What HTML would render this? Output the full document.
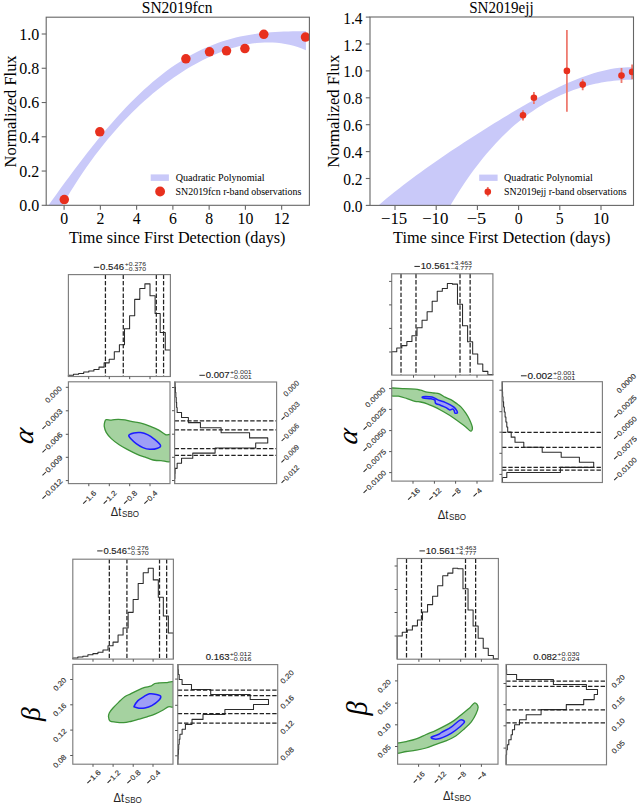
<!DOCTYPE html>
<html><head><meta charset="utf-8"><style>
html,body{margin:0;padding:0;background:#fff;overflow:hidden;}
svg{display:block;}
</style></head><body>
<svg width="637" height="805" viewBox="0 0 637 805">
<rect x="0" y="0" width="637" height="805" fill="#fff"/>
<clipPath id="c1"><rect x="46.2" y="17.2" width="263.2" height="188.1"/></clipPath>
<path d="M47.5,206.65 L51.88,200.52 L56.26,194.41 L60.64,188.35 L65.02,182.34 L69.4,176.38 L73.78,170.49 L78.16,164.66 L82.54,158.92 L86.92,153.26 L91.3,147.69 L95.68,142.22 L100.06,136.85 L104.44,131.59 L108.82,126.45 L113.19,121.42 L117.57,116.52 L121.95,111.74 L126.33,107.09 L130.71,102.58 L135.09,98.2 L139.47,93.96 L143.85,89.86 L148.23,85.91 L152.61,82.11 L156.99,78.45 L161.37,74.94 L165.75,71.58 L170.13,68.37 L174.51,65.31 L178.89,62.41 L183.27,59.65 L187.65,57.04 L192.03,54.57 L196.41,52.26 L200.79,50.09 L205.17,48.06 L209.55,46.17 L213.93,44.42 L218.31,42.8 L222.69,41.31 L227.07,39.95 L231.45,38.72 L235.83,37.6 L240.21,36.6 L244.58,35.7 L248.96,34.91 L253.34,34.22 L257.72,33.62 L262.1,33.11 L266.48,32.68 L270.86,32.32 L275.24,32.02 L279.62,31.78 L284,31.6 L288.38,31.45 L292.76,31.33 L297.14,31.25 L301.52,31.17 L305.9,31.1 L305.9,50.13 L301.76,48.47 L297.63,47.02 L293.49,45.79 L289.35,44.76 L285.21,43.93 L281.08,43.29 L276.94,42.83 L272.8,42.55 L268.66,42.45 L264.53,42.5 L260.39,42.72 L256.25,43.09 L252.12,43.62 L247.98,44.29 L243.84,45.1 L239.7,46.05 L235.57,47.13 L231.43,48.34 L227.29,49.68 L223.15,51.14 L219.02,52.73 L214.88,54.43 L210.74,56.25 L206.61,58.19 L202.47,60.24 L198.33,62.41 L194.19,64.68 L190.06,67.07 L185.92,69.57 L181.78,72.18 L177.64,74.9 L173.51,77.73 L169.37,80.68 L165.23,83.74 L161.09,86.91 L156.96,90.21 L152.82,93.62 L148.68,97.15 L144.55,100.8 L140.41,104.59 L136.27,108.5 L132.13,112.54 L128,116.72 L123.86,121.04 L119.72,125.51 L115.58,130.13 L111.45,134.9 L107.31,139.83 L103.17,144.92 L99.04,150.18 L94.9,155.62 L90.76,161.25 L86.62,167.06 L82.49,173.06 L78.35,179.27 L74.21,185.69 L70.07,192.33 L65.94,199.2 L61.8,206.29 Z" fill="#c9c9f9" stroke="none" stroke-width="1" stroke-linejoin="round" clip-path="url(#c1)"/>
<circle cx="64.3" cy="199.6" r="4.75" fill="#e8301e" clip-path="url(#c1)"/>
<circle cx="99.8" cy="131.8" r="4.75" fill="#e8301e" clip-path="url(#c1)"/>
<circle cx="185.9" cy="58.8" r="4.75" fill="#e8301e" clip-path="url(#c1)"/>
<circle cx="209.5" cy="51.8" r="4.75" fill="#e8301e" clip-path="url(#c1)"/>
<circle cx="226.5" cy="50.8" r="4.75" fill="#e8301e" clip-path="url(#c1)"/>
<circle cx="244.9" cy="48.6" r="4.75" fill="#e8301e" clip-path="url(#c1)"/>
<circle cx="263.8" cy="34.3" r="4.75" fill="#e8301e" clip-path="url(#c1)"/>
<circle cx="305.5" cy="37.1" r="4.75" fill="#e8301e" clip-path="url(#c1)"/>
<rect x="46.2" y="17.2" width="263.2" height="188.1" fill="none" stroke="#666" stroke-width="1.1"/>
<line x1="41.7" y1="205.3" x2="46.2" y2="205.3" stroke="#666" stroke-width="1.1"/>
<text x="39.3" y="211.2" font-family='"Liberation Serif", serif' font-size="15.8" text-anchor="end" fill="#000" textLength="20" lengthAdjust="spacingAndGlyphs">0.0</text>
<line x1="41.7" y1="171.04" x2="46.2" y2="171.04" stroke="#666" stroke-width="1.1"/>
<text x="39.3" y="176.94" font-family='"Liberation Serif", serif' font-size="15.8" text-anchor="end" fill="#000" textLength="20" lengthAdjust="spacingAndGlyphs">0.2</text>
<line x1="41.7" y1="136.78" x2="46.2" y2="136.78" stroke="#666" stroke-width="1.1"/>
<text x="39.3" y="142.68" font-family='"Liberation Serif", serif' font-size="15.8" text-anchor="end" fill="#000" textLength="20" lengthAdjust="spacingAndGlyphs">0.4</text>
<line x1="41.7" y1="102.52" x2="46.2" y2="102.52" stroke="#666" stroke-width="1.1"/>
<text x="39.3" y="108.42" font-family='"Liberation Serif", serif' font-size="15.8" text-anchor="end" fill="#000" textLength="20" lengthAdjust="spacingAndGlyphs">0.6</text>
<line x1="41.7" y1="68.26" x2="46.2" y2="68.26" stroke="#666" stroke-width="1.1"/>
<text x="39.3" y="74.16" font-family='"Liberation Serif", serif' font-size="15.8" text-anchor="end" fill="#000" textLength="20" lengthAdjust="spacingAndGlyphs">0.8</text>
<line x1="41.7" y1="34" x2="46.2" y2="34" stroke="#666" stroke-width="1.1"/>
<text x="39.3" y="39.9" font-family='"Liberation Serif", serif' font-size="15.8" text-anchor="end" fill="#000" textLength="20" lengthAdjust="spacingAndGlyphs">1.0</text>
<line x1="64.1" y1="205.3" x2="64.1" y2="209.8" stroke="#666" stroke-width="1.1"/>
<text x="64.1" y="223.6" font-family='"Liberation Serif", serif' font-size="15.8" text-anchor="middle" fill="#000">0</text>
<line x1="100.36" y1="205.3" x2="100.36" y2="209.8" stroke="#666" stroke-width="1.1"/>
<text x="100.36" y="223.6" font-family='"Liberation Serif", serif' font-size="15.8" text-anchor="middle" fill="#000">2</text>
<line x1="136.62" y1="205.3" x2="136.62" y2="209.8" stroke="#666" stroke-width="1.1"/>
<text x="136.62" y="223.6" font-family='"Liberation Serif", serif' font-size="15.8" text-anchor="middle" fill="#000">4</text>
<line x1="172.88" y1="205.3" x2="172.88" y2="209.8" stroke="#666" stroke-width="1.1"/>
<text x="172.88" y="223.6" font-family='"Liberation Serif", serif' font-size="15.8" text-anchor="middle" fill="#000">6</text>
<line x1="209.14" y1="205.3" x2="209.14" y2="209.8" stroke="#666" stroke-width="1.1"/>
<text x="209.14" y="223.6" font-family='"Liberation Serif", serif' font-size="15.8" text-anchor="middle" fill="#000">8</text>
<line x1="245.4" y1="205.3" x2="245.4" y2="209.8" stroke="#666" stroke-width="1.1"/>
<text x="245.4" y="223.6" font-family='"Liberation Serif", serif' font-size="15.8" text-anchor="middle" fill="#000">10</text>
<line x1="281.66" y1="205.3" x2="281.66" y2="209.8" stroke="#666" stroke-width="1.1"/>
<text x="281.66" y="223.6" font-family='"Liberation Serif", serif' font-size="15.8" text-anchor="middle" fill="#000">12</text>
<text x="141.8" y="13.2" font-family='"Liberation Serif", serif' font-size="16.6" text-anchor="start" fill="#000" textLength="70.6" lengthAdjust="spacingAndGlyphs">SN2019fcn</text>
<text x="69" y="242.8" font-family='"Liberation Serif", serif' font-size="15.8" text-anchor="start" fill="#000" textLength="216.5" lengthAdjust="spacingAndGlyphs">Time since First Detection (days)</text>
<text transform="translate(16.4,111.4) rotate(-90)" x="0" y="0" font-family='"Liberation Serif", serif' font-size="16" text-anchor="middle" fill="#000" textLength="112" lengthAdjust="spacingAndGlyphs">Normalized Flux</text>
<rect x="150.7" y="174.4" width="18.2" height="6.5" fill="#c9c9f9"/>
<text x="175.8" y="181.3" font-family='"Liberation Serif", serif' font-size="10.2" text-anchor="start" fill="#000" textLength="88.8" lengthAdjust="spacingAndGlyphs">Quadratic Polynomial</text>
<circle cx="160.1" cy="191.5" r="4.9" fill="#e8301e"/>
<text x="175.6" y="194.5" font-family='"Liberation Serif", serif' font-size="10.2" text-anchor="start" fill="#000" textLength="125.8" lengthAdjust="spacingAndGlyphs">SN2019fcn r-band observations</text>
<clipPath id="c2"><rect x="370" y="17" width="263.5" height="188.4"/></clipPath>
<path d="M377.5,206.23 L381.82,202.5 L386.14,198.86 L390.47,195.3 L394.79,191.81 L399.11,188.38 L403.43,185.02 L407.75,181.72 L412.08,178.47 L416.4,175.28 L420.72,172.13 L425.04,169.02 L429.36,165.95 L433.69,162.92 L438.01,159.93 L442.33,156.96 L446.65,154.03 L450.97,151.12 L455.3,148.24 L459.62,145.38 L463.94,142.55 L468.26,139.73 L472.58,136.94 L476.91,134.17 L481.23,131.43 L485.55,128.7 L489.87,126 L494.19,123.31 L498.52,120.66 L502.84,118.02 L507.16,115.42 L511.48,112.84 L515.81,110.29 L520.13,107.77 L524.45,105.29 L528.77,102.84 L533.09,100.44 L537.42,98.07 L541.74,95.76 L546.06,93.5 L550.38,91.29 L554.7,89.14 L559.03,87.06 L563.35,85.04 L567.67,83.1 L571.99,81.24 L576.31,79.46 L580.64,77.78 L584.96,76.19 L589.28,74.7 L593.6,73.33 L597.92,72.07 L602.25,70.94 L606.57,69.94 L610.89,69.08 L615.21,68.36 L619.53,67.8 L623.86,67.41 L628.18,67.19 L632.5,67.15 L632.5,79.65 L629.39,79.72 L626.28,79.84 L623.17,80.01 L620.06,80.23 L616.95,80.5 L613.84,80.82 L610.73,81.19 L607.62,81.61 L604.51,82.09 L601.4,82.62 L598.29,83.21 L595.18,83.85 L592.07,84.56 L588.96,85.32 L585.85,86.15 L582.74,87.03 L579.63,87.98 L576.52,89 L573.41,90.08 L570.3,91.23 L567.19,92.45 L564.08,93.74 L560.97,95.1 L557.86,96.54 L554.75,98.05 L551.64,99.64 L548.53,101.31 L545.42,103.06 L542.31,104.89 L539.19,106.8 L536.08,108.8 L532.97,110.89 L529.86,113.07 L526.75,115.34 L523.64,117.7 L520.53,120.15 L517.42,122.71 L514.31,125.36 L511.2,128.12 L508.09,130.97 L504.98,133.94 L501.87,137.01 L498.76,140.19 L495.65,143.48 L492.54,146.88 L489.43,150.41 L486.32,154.05 L483.21,157.81 L480.1,161.69 L476.99,165.7 L473.88,169.84 L470.77,174.11 L467.66,178.51 L464.55,183.05 L461.44,187.72 L458.33,192.54 L455.22,197.5 L452.11,202.61 L449,207.86 Z" fill="#c9c9f9" stroke="none" stroke-width="1" stroke-linejoin="round" clip-path="url(#c2)"/>
<line x1="523" y1="110.2" x2="523" y2="120.4" stroke="#ee7b70" stroke-width="1.8" clip-path="url(#c2)"/>
<circle cx="523" cy="115.2" r="3.3" fill="#e8301e" clip-path="url(#c2)"/>
<line x1="533.9" y1="91.9" x2="533.9" y2="104" stroke="#ee7b70" stroke-width="1.8" clip-path="url(#c2)"/>
<circle cx="533.9" cy="97.7" r="3.3" fill="#e8301e" clip-path="url(#c2)"/>
<line x1="566.9" y1="30" x2="566.9" y2="111.8" stroke="#ee7b70" stroke-width="1.8" clip-path="url(#c2)"/>
<circle cx="566.9" cy="70.9" r="3.3" fill="#e8301e" clip-path="url(#c2)"/>
<line x1="582.7" y1="79.3" x2="582.7" y2="90.2" stroke="#ee7b70" stroke-width="1.8" clip-path="url(#c2)"/>
<circle cx="582.7" cy="84.6" r="3.3" fill="#e8301e" clip-path="url(#c2)"/>
<line x1="621.5" y1="68" x2="621.5" y2="82.9" stroke="#ee7b70" stroke-width="1.8" clip-path="url(#c2)"/>
<circle cx="621.5" cy="75.6" r="3.3" fill="#e8301e" clip-path="url(#c2)"/>
<line x1="632.1" y1="64.4" x2="632.1" y2="79.3" stroke="#ee7b70" stroke-width="1.8" clip-path="url(#c2)"/>
<circle cx="632.1" cy="71.9" r="3.3" fill="#e8301e" clip-path="url(#c2)"/>
<rect x="370" y="17" width="263.5" height="188.4" fill="none" stroke="#666" stroke-width="1.1"/>
<line x1="365.8" y1="205.4" x2="370" y2="205.4" stroke="#666" stroke-width="1.1"/>
<text x="362.6" y="211.9" font-family='"Liberation Serif", serif' font-size="15.8" text-anchor="end" fill="#000" textLength="19.3" lengthAdjust="spacingAndGlyphs">0.0</text>
<line x1="365.8" y1="178.5" x2="370" y2="178.5" stroke="#666" stroke-width="1.1"/>
<text x="362.6" y="185" font-family='"Liberation Serif", serif' font-size="15.8" text-anchor="end" fill="#000" textLength="19.3" lengthAdjust="spacingAndGlyphs">0.2</text>
<line x1="365.8" y1="151.6" x2="370" y2="151.6" stroke="#666" stroke-width="1.1"/>
<text x="362.6" y="158.1" font-family='"Liberation Serif", serif' font-size="15.8" text-anchor="end" fill="#000" textLength="19.3" lengthAdjust="spacingAndGlyphs">0.4</text>
<line x1="365.8" y1="124.7" x2="370" y2="124.7" stroke="#666" stroke-width="1.1"/>
<text x="362.6" y="131.2" font-family='"Liberation Serif", serif' font-size="15.8" text-anchor="end" fill="#000" textLength="19.3" lengthAdjust="spacingAndGlyphs">0.6</text>
<line x1="365.8" y1="97.8" x2="370" y2="97.8" stroke="#666" stroke-width="1.1"/>
<text x="362.6" y="104.3" font-family='"Liberation Serif", serif' font-size="15.8" text-anchor="end" fill="#000" textLength="19.3" lengthAdjust="spacingAndGlyphs">0.8</text>
<line x1="365.8" y1="70.9" x2="370" y2="70.9" stroke="#666" stroke-width="1.1"/>
<text x="362.6" y="77.4" font-family='"Liberation Serif", serif' font-size="15.8" text-anchor="end" fill="#000" textLength="19.3" lengthAdjust="spacingAndGlyphs">1.0</text>
<line x1="365.8" y1="44" x2="370" y2="44" stroke="#666" stroke-width="1.1"/>
<text x="362.6" y="50.5" font-family='"Liberation Serif", serif' font-size="15.8" text-anchor="end" fill="#000" textLength="19.3" lengthAdjust="spacingAndGlyphs">1.2</text>
<line x1="365.8" y1="17.1" x2="370" y2="17.1" stroke="#666" stroke-width="1.1"/>
<text x="362.6" y="23.6" font-family='"Liberation Serif", serif' font-size="15.8" text-anchor="end" fill="#000" textLength="19.3" lengthAdjust="spacingAndGlyphs">1.4</text>
<line x1="395" y1="205.4" x2="395" y2="209.9" stroke="#666" stroke-width="1.1"/>
<text x="394.1" y="223.6" font-family='"Liberation Serif", serif' font-size="15.8" text-anchor="middle" fill="#000" textLength="26.3" lengthAdjust="spacingAndGlyphs">−15</text>
<line x1="436.2" y1="205.4" x2="436.2" y2="209.9" stroke="#666" stroke-width="1.1"/>
<text x="435.3" y="223.6" font-family='"Liberation Serif", serif' font-size="15.8" text-anchor="middle" fill="#000" textLength="26.3" lengthAdjust="spacingAndGlyphs">−10</text>
<line x1="477.4" y1="205.4" x2="477.4" y2="209.9" stroke="#666" stroke-width="1.1"/>
<text x="476.5" y="223.6" font-family='"Liberation Serif", serif' font-size="15.8" text-anchor="middle" fill="#000" textLength="19.6" lengthAdjust="spacingAndGlyphs">−5</text>
<line x1="518.6" y1="205.4" x2="518.6" y2="209.9" stroke="#666" stroke-width="1.1"/>
<text x="518.6" y="223.6" font-family='"Liberation Serif", serif' font-size="15.8" text-anchor="middle" fill="#000">0</text>
<line x1="559.8" y1="205.4" x2="559.8" y2="209.9" stroke="#666" stroke-width="1.1"/>
<text x="559.8" y="223.6" font-family='"Liberation Serif", serif' font-size="15.8" text-anchor="middle" fill="#000">5</text>
<line x1="601" y1="205.4" x2="601" y2="209.9" stroke="#666" stroke-width="1.1"/>
<text x="601" y="223.6" font-family='"Liberation Serif", serif' font-size="15.8" text-anchor="middle" fill="#000">10</text>
<text x="469.2" y="13.2" font-family='"Liberation Serif", serif' font-size="16.6" text-anchor="start" fill="#000" textLength="64.4" lengthAdjust="spacingAndGlyphs">SN2019ejj</text>
<text x="393" y="242.8" font-family='"Liberation Serif", serif' font-size="15.8" text-anchor="start" fill="#000" textLength="217.5" lengthAdjust="spacingAndGlyphs">Time since First Detection (days)</text>
<text transform="translate(338.6,111.3) rotate(-90)" x="0" y="0" font-family='"Liberation Serif", serif' font-size="16" text-anchor="middle" fill="#000" textLength="113" lengthAdjust="spacingAndGlyphs">Normalized Flux</text>
<rect x="479.2" y="174.6" width="18.4" height="6.3" fill="#c9c9f9"/>
<text x="504.1" y="181.3" font-family='"Liberation Serif", serif' font-size="10.2" text-anchor="start" fill="#000" textLength="88.7" lengthAdjust="spacingAndGlyphs">Quadratic Polynomial</text>
<line x1="487.8" y1="187" x2="487.8" y2="196.4" stroke="#ee7b70" stroke-width="1.8"/>
<circle cx="487.8" cy="191.8" r="3.3" fill="#e8301e"/>
<text x="504.1" y="194.5" font-family='"Liberation Serif", serif' font-size="10.2" text-anchor="start" fill="#000" textLength="122.6" lengthAdjust="spacingAndGlyphs">SN2019ejj r-band observations</text>
<clipPath id="k1"><rect x="68.4" y="381.8" width="101.6" height="101.8"/></clipPath>
<path d="M106.2,419.7 C107.3,419.35 109.32,420.17 111.3,420.1 C113.28,420.03 115.83,419.33 118.1,419.3 C120.37,419.27 122.27,419.47 124.9,419.9 C127.53,420.33 131.08,421.33 133.9,421.9 C136.72,422.47 139.17,422.6 141.8,423.3 C144.43,424 146.87,424.97 149.7,426.1 C152.53,427.23 156.17,428.68 158.8,430.1 C161.43,431.52 163.3,433.52 165.5,434.6 C167.7,435.68 170.92,432.37 172,436.6 C173.08,440.83 173.83,456 172,460 C170.17,464 164.15,460.6 161,460.6 C157.85,460.6 155.73,460.57 153.1,460 C150.47,459.43 147.83,458.13 145.2,457.2 C142.57,456.27 140.13,455.62 137.3,454.4 C134.47,453.18 131.22,451.5 128.2,449.9 C125.18,448.3 122.02,446.68 119.2,444.8 C116.38,442.92 113.47,440.68 111.3,438.6 C109.13,436.52 107.37,434.28 106.2,432.3 C105.03,430.32 104.55,428.38 104.3,426.7 C104.05,425.02 104.38,423.37 104.7,422.2 C105.02,421.03 105.1,420.05 106.2,419.7 Z" fill="#a5d2a0" stroke="#3d9438" stroke-width="1.3" clip-path="url(#k1)"/>
<path d="M128.8,435.2 C129.27,434.17 131.92,433.33 133.9,432.9 C135.88,432.47 138.43,432.32 140.7,432.6 C142.97,432.88 145.25,433.52 147.5,434.6 C149.75,435.68 152.03,437.32 154.2,439.1 C156.37,440.88 159.93,443.78 160.5,445.3 C161.07,446.82 159.4,447.53 157.6,448.2 C155.8,448.87 152.15,449.4 149.7,449.3 C147.25,449.2 145.15,448.55 142.9,447.6 C140.65,446.65 138.17,445.02 136.2,443.6 C134.23,442.18 132.33,440.5 131.1,439.1 C129.87,437.7 128.33,436.23 128.8,435.2 Z" fill="#9e9ef6" stroke="#1c1cff" stroke-width="1.5" clip-path="url(#k1)"/>
<path d="M68.4,376.5 L68.4,375.28 L73.5,375.28 L73.5,374.26 L78.6,374.26 L78.6,373.54 L83.7,373.54 L83.7,372.02 L88.8,372.02 L88.8,370.9 L93.9,370.9 L93.9,369.57 L99,369.57 L99,367.13 L104.1,367.13 L104.1,362.85 L109.2,362.85 L109.2,359.18 L114.3,359.18 L114.3,351.84 L119.4,351.84 L119.4,344.81 L124.5,344.81 L124.5,328.81 L129.6,328.81 L129.6,315.67 L134.7,315.67 L134.7,299.36 L139.8,299.36 L139.8,288.46 L144.9,288.46 L144.9,283.87 L150,283.87 L150,295.69 L155.1,295.69 L155.1,313.42 L160.2,313.42 L160.2,332.58 L165.3,332.58 L165.3,349.9 L170.4,349.9 L170.4,376.5" fill="none" stroke="#2b2b2b" stroke-width="1.05" stroke-linejoin="round" stroke-linejoin="miter"/>
<line x1="105.43" y1="274.6" x2="105.43" y2="376.5" stroke="#222" stroke-width="1.25" stroke-dasharray="4.4,1.9"/>
<line x1="123.28" y1="274.6" x2="123.28" y2="376.5" stroke="#222" stroke-width="1.25" stroke-dasharray="4.4,1.9"/>
<line x1="156.32" y1="274.6" x2="156.32" y2="376.5" stroke="#222" stroke-width="1.25" stroke-dasharray="4.4,1.9"/>
<line x1="163.57" y1="274.6" x2="163.57" y2="376.5" stroke="#222" stroke-width="1.25" stroke-dasharray="4.4,1.9"/>
<path d="M174.6,382 L175.11,382 L175.11,387.08 L175.42,387.08 L175.42,392.16 L175.82,392.16 L175.82,397.24 L176.23,397.24 L176.23,402.32 L176.64,402.32 L176.64,407.4 L177.15,407.4 L177.15,412.48 L181.54,412.48 L181.54,417.56 L188.37,417.56 L188.37,422.64 L200.41,422.64 L200.41,427.72 L221.11,427.72 L221.11,432.8 L249.57,432.8 L249.57,437.88 L267.73,437.88 L267.73,442.96 L255.69,442.96 L255.69,448.04 L215.09,448.04 L215.09,453.12 L192.76,453.12 L192.76,458.2 L181.54,458.2 L181.54,463.28 L177.15,463.28 L177.15,468.36 L175.11,468.36 L175.11,473.44 L174.91,473.44 L174.91,478.52 L174.6,478.52 L174.6,483.6 L174.6,483.6" fill="none" stroke="#2b2b2b" stroke-width="1.05" stroke-linejoin="round" stroke-linejoin="miter"/>
<line x1="174.6" y1="420.91" x2="276.6" y2="420.91" stroke="#222" stroke-width="1.25" stroke-dasharray="4.4,1.9"/>
<line x1="174.6" y1="429.75" x2="276.6" y2="429.75" stroke="#222" stroke-width="1.25" stroke-dasharray="4.4,1.9"/>
<line x1="174.6" y1="448.65" x2="276.6" y2="448.65" stroke="#222" stroke-width="1.25" stroke-dasharray="4.4,1.9"/>
<line x1="174.6" y1="455.36" x2="276.6" y2="455.36" stroke="#222" stroke-width="1.25" stroke-dasharray="4.4,1.9"/>
<rect x="68.4" y="274.6" width="102" height="101.9" fill="none" stroke="#7d7d7d" stroke-width="1.15"/>
<rect x="68.4" y="381.8" width="101.6" height="101.8" fill="none" stroke="#7d7d7d" stroke-width="1.15"/>
<rect x="174.6" y="382" width="102" height="101.6" fill="none" stroke="#7d7d7d" stroke-width="1.15"/>
<line x1="88.7" y1="376.5" x2="88.7" y2="379.1" stroke="#555" stroke-width="1"/>
<line x1="109.3" y1="376.5" x2="109.3" y2="379.1" stroke="#555" stroke-width="1"/>
<line x1="129.7" y1="376.5" x2="129.7" y2="379.1" stroke="#555" stroke-width="1"/>
<line x1="150" y1="376.5" x2="150" y2="379.1" stroke="#555" stroke-width="1"/>
<line x1="65.8" y1="387.3" x2="68.4" y2="387.3" stroke="#555" stroke-width="1"/>
<line x1="65.8" y1="410.8" x2="68.4" y2="410.8" stroke="#555" stroke-width="1"/>
<line x1="65.8" y1="434.3" x2="68.4" y2="434.3" stroke="#555" stroke-width="1"/>
<line x1="65.8" y1="457.3" x2="68.4" y2="457.3" stroke="#555" stroke-width="1"/>
<line x1="65.8" y1="480.6" x2="68.4" y2="480.6" stroke="#555" stroke-width="1"/>
<line x1="88.8" y1="483.6" x2="88.8" y2="486.2" stroke="#555" stroke-width="1"/>
<line x1="109.3" y1="483.6" x2="109.3" y2="486.2" stroke="#555" stroke-width="1"/>
<line x1="129.7" y1="483.6" x2="129.7" y2="486.2" stroke="#555" stroke-width="1"/>
<line x1="150" y1="483.6" x2="150" y2="486.2" stroke="#555" stroke-width="1"/>
<line x1="172" y1="387.5" x2="174.6" y2="387.5" stroke="#555" stroke-width="1"/>
<line x1="172" y1="410.7" x2="174.6" y2="410.7" stroke="#555" stroke-width="1"/>
<line x1="172" y1="434.2" x2="174.6" y2="434.2" stroke="#555" stroke-width="1"/>
<line x1="172" y1="457.3" x2="174.6" y2="457.3" stroke="#555" stroke-width="1"/>
<line x1="172" y1="480.5" x2="174.6" y2="480.5" stroke="#555" stroke-width="1"/>
<line x1="93.8" y1="267.31" x2="99.28" y2="267.31" stroke="#1a1a1a" stroke-width="0.95"/>
<text x="100.12" y="270.1" font-family='"Liberation Sans", sans-serif' font-size="8.2" text-anchor="start" fill="#1a1a1a" textLength="23.98" lengthAdjust="spacingAndGlyphs" stroke="#1a1a1a" stroke-width="0.12">0.546</text>
<text x="124.8" y="266.2" font-family='"Liberation Sans", sans-serif' font-size="5.5" text-anchor="start" fill="#1a1a1a" textLength="21.2" lengthAdjust="spacingAndGlyphs">+0.276</text>
<text x="124.8" y="271.2" font-family='"Liberation Sans", sans-serif' font-size="5.5" text-anchor="start" fill="#1a1a1a" textLength="21.2" lengthAdjust="spacingAndGlyphs">−0.370</text>
<line x1="199.4" y1="375.31" x2="204.86" y2="375.31" stroke="#1a1a1a" stroke-width="0.95"/>
<text x="205.7" y="378.1" font-family='"Liberation Sans", sans-serif' font-size="8.2" text-anchor="start" fill="#1a1a1a" textLength="23.9" lengthAdjust="spacingAndGlyphs" stroke="#1a1a1a" stroke-width="0.12">0.007</text>
<text x="230" y="374.2" font-family='"Liberation Sans", sans-serif' font-size="5.5" text-anchor="start" fill="#1a1a1a" textLength="21.8" lengthAdjust="spacingAndGlyphs">+0.001</text>
<text x="230" y="379.2" font-family='"Liberation Sans", sans-serif' font-size="5.5" text-anchor="start" fill="#1a1a1a" textLength="21.8" lengthAdjust="spacingAndGlyphs">−0.001</text>
<text transform="translate(53.32,394.38) rotate(-45)" x="0" y="2.63" text-anchor="middle" textLength="20.46" font-family='"Liberation Sans", sans-serif' font-size="7.3" fill="#333" stroke="#333" stroke-width="0.15" lengthAdjust="spacingAndGlyphs">0.000</text>
<g transform="translate(51.62,419.58) rotate(-45)"><line x1="-13.05" y1="0.15" x2="-8.22" y2="0.15" stroke="#2a2a2a" stroke-width="1.05"/><text x="13.67" y="2.63" text-anchor="end" textLength="21.14" font-family='"Liberation Sans", sans-serif' font-size="7.3" fill="#333" stroke="#333" stroke-width="0.15" lengthAdjust="spacingAndGlyphs">0.003</text></g>
<g transform="translate(51.62,443.08) rotate(-45)"><line x1="-13.05" y1="0.15" x2="-8.22" y2="0.15" stroke="#2a2a2a" stroke-width="1.05"/><text x="13.67" y="2.63" text-anchor="end" textLength="21.14" font-family='"Liberation Sans", sans-serif' font-size="7.3" fill="#333" stroke="#333" stroke-width="0.15" lengthAdjust="spacingAndGlyphs">0.006</text></g>
<g transform="translate(51.62,466.08) rotate(-45)"><line x1="-13.05" y1="0.15" x2="-8.22" y2="0.15" stroke="#2a2a2a" stroke-width="1.05"/><text x="13.67" y="2.63" text-anchor="end" textLength="21.14" font-family='"Liberation Sans", sans-serif' font-size="7.3" fill="#333" stroke="#333" stroke-width="0.15" lengthAdjust="spacingAndGlyphs">0.009</text></g>
<g transform="translate(51.62,489.38) rotate(-45)"><line x1="-13.05" y1="0.15" x2="-8.22" y2="0.15" stroke="#2a2a2a" stroke-width="1.05"/><text x="13.67" y="2.63" text-anchor="end" textLength="21.14" font-family='"Liberation Sans", sans-serif' font-size="7.3" fill="#333" stroke="#333" stroke-width="0.15" lengthAdjust="spacingAndGlyphs">0.012</text></g>
<g transform="translate(88.8,497.9) rotate(-45)"><line x1="-8.07" y1="0.15" x2="-3.4" y2="0.15" stroke="#2a2a2a" stroke-width="1.05"/><text x="8.67" y="2.63" text-anchor="end" textLength="11.36" font-family='"Liberation Sans", sans-serif' font-size="7.3" fill="#333" stroke="#333" stroke-width="0.15" lengthAdjust="spacingAndGlyphs">1.6</text></g>
<g transform="translate(109.3,497.9) rotate(-45)"><line x1="-8.07" y1="0.15" x2="-3.4" y2="0.15" stroke="#2a2a2a" stroke-width="1.05"/><text x="8.67" y="2.63" text-anchor="end" textLength="11.36" font-family='"Liberation Sans", sans-serif' font-size="7.3" fill="#333" stroke="#333" stroke-width="0.15" lengthAdjust="spacingAndGlyphs">1.2</text></g>
<g transform="translate(129.7,497.9) rotate(-45)"><line x1="-8.07" y1="0.15" x2="-3.4" y2="0.15" stroke="#2a2a2a" stroke-width="1.05"/><text x="8.67" y="2.63" text-anchor="end" textLength="11.36" font-family='"Liberation Sans", sans-serif' font-size="7.3" fill="#333" stroke="#333" stroke-width="0.15" lengthAdjust="spacingAndGlyphs">0.8</text></g>
<g transform="translate(150,497.9) rotate(-45)"><line x1="-8.07" y1="0.15" x2="-3.4" y2="0.15" stroke="#2a2a2a" stroke-width="1.05"/><text x="8.67" y="2.63" text-anchor="end" textLength="11.36" font-family='"Liberation Sans", sans-serif' font-size="7.3" fill="#333" stroke="#333" stroke-width="0.15" lengthAdjust="spacingAndGlyphs">0.4</text></g>
<text transform="translate(291.05,388.4) rotate(-45)" x="0" y="2.63" text-anchor="middle" textLength="18.87" font-family='"Liberation Sans", sans-serif' font-size="7.3" fill="#333" stroke="#333" stroke-width="0.15" lengthAdjust="spacingAndGlyphs">0.000</text>
<g transform="translate(289.7,411.3) rotate(-45)"><line x1="-11.64" y1="0.15" x2="-7.33" y2="0.15" stroke="#2a2a2a" stroke-width="1.05"/><text x="12.19" y="2.63" text-anchor="end" textLength="18.86" font-family='"Liberation Sans", sans-serif' font-size="7.3" fill="#333" stroke="#333" stroke-width="0.15" lengthAdjust="spacingAndGlyphs">0.003</text></g>
<g transform="translate(289.45,432.95) rotate(-45)"><line x1="-11.23" y1="0.15" x2="-7.07" y2="0.15" stroke="#2a2a2a" stroke-width="1.05"/><text x="11.76" y="2.63" text-anchor="end" textLength="18.19" font-family='"Liberation Sans", sans-serif' font-size="7.3" fill="#333" stroke="#333" stroke-width="0.15" lengthAdjust="spacingAndGlyphs">0.006</text></g>
<g transform="translate(289.45,454.15) rotate(-45)"><line x1="-11.43" y1="0.15" x2="-7.2" y2="0.15" stroke="#2a2a2a" stroke-width="1.05"/><text x="11.97" y="2.63" text-anchor="end" textLength="18.52" font-family='"Liberation Sans", sans-serif' font-size="7.3" fill="#333" stroke="#333" stroke-width="0.15" lengthAdjust="spacingAndGlyphs">0.009</text></g>
<g transform="translate(289.45,474.7) rotate(-45)"><line x1="-11.33" y1="0.15" x2="-7.14" y2="0.15" stroke="#2a2a2a" stroke-width="1.05"/><text x="11.87" y="2.63" text-anchor="end" textLength="18.36" font-family='"Liberation Sans", sans-serif' font-size="7.3" fill="#333" stroke="#333" stroke-width="0.15" lengthAdjust="spacingAndGlyphs">0.012</text></g>
<text transform="translate(23.2,435.4) skewY(14) rotate(-90)" x="0" y="0" font-family='"Liberation Serif", serif' font-style="italic" font-size="28" text-anchor="middle" dominant-baseline="central" fill="#000">α</text>
<text x="110.8" y="516.1" font-family='"Liberation Sans", sans-serif' font-size="12.3" text-anchor="start" fill="#222" textLength="10.5" lengthAdjust="spacingAndGlyphs">Δt</text>
<text x="122.1" y="517.3" font-family='"Liberation Sans", sans-serif' font-size="9.3" text-anchor="start" fill="#222" textLength="16.9" lengthAdjust="spacingAndGlyphs">SBO</text>
<clipPath id="k2"><rect x="391.7" y="380.4" width="101.2" height="100.7"/></clipPath>
<path d="M389,388.4 C391.52,387.28 399.77,388.57 404.1,388.7 C408.43,388.83 412.25,388.95 415,389.2 C417.75,389.45 418.57,389.72 420.6,390.2 C422.63,390.68 425,391.63 427.2,392.1 C429.4,392.57 431.75,392.7 433.8,393 C435.85,393.3 437.62,393.2 439.5,393.9 C441.38,394.6 443.22,396.25 445.1,397.2 C446.98,398.15 448.92,398.57 450.8,399.6 C452.68,400.63 454.68,402.15 456.4,403.4 C458.12,404.65 459.53,405.47 461.1,407.1 C462.67,408.73 464.38,411.08 465.8,413.2 C467.22,415.32 468.5,417.37 469.6,419.8 C470.7,422.23 472.23,425.92 472.4,427.8 C472.57,429.68 471.7,431.25 470.6,431.1 C469.5,430.95 467.53,428.3 465.8,426.9 C464.07,425.5 462.23,424.18 460.2,422.7 C458.17,421.22 455.8,419.5 453.6,418 C451.4,416.5 449.2,415.03 447,413.7 C444.8,412.37 442.6,411.17 440.4,410 C438.2,408.83 436,407.73 433.8,406.7 C431.6,405.67 429.4,404.58 427.2,403.8 C425,403.02 422.63,402.42 420.6,402 C418.57,401.58 417.27,401.87 415,401.3 C412.73,400.73 409.75,399.45 407,398.6 C404.25,397.75 401.5,396.73 398.5,396.2 C395.5,395.67 390.58,396.7 389,395.4 C387.42,394.1 386.48,389.52 389,388.4 Z" fill="#a5d2a0" stroke="#3d9438" stroke-width="1.3" clip-path="url(#k2)"/>
<path d="M422.1,397.2 C422.27,396.92 423.75,396.52 425.4,396.5 C427.05,396.48 430.28,396.73 432,397.1 C433.72,397.47 434.45,398.13 435.7,398.7 C436.95,399.27 437.93,399.88 439.5,400.5 C441.07,401.12 443.22,401.62 445.1,402.4 C446.98,403.18 449.23,404.33 450.8,405.2 C452.37,406.07 453.48,406.65 454.5,407.6 C455.52,408.55 456.42,410.03 456.9,410.9 C457.38,411.77 457.72,412.42 457.4,412.8 C457.08,413.18 455.55,413.6 455,413.2 C454.45,412.8 454.48,411.1 454.1,410.4 C453.72,409.7 453.42,409.07 452.7,409 C451.98,408.93 450.9,410.23 449.8,410 C448.7,409.77 447.67,408.4 446.1,407.6 C444.53,406.8 442.13,405.9 440.4,405.2 C438.67,404.5 436.63,404.25 435.7,403.4 C434.77,402.55 435.58,400.88 434.8,400.1 C434.02,399.32 432.73,399.02 431,398.7 C429.27,398.38 425.88,398.45 424.4,398.2 C422.92,397.95 421.93,397.48 422.1,397.2 Z" fill="#9e9ef6" stroke="#1c1cff" stroke-width="1.5" clip-path="url(#k2)"/>
<path d="M391.7,375.1 L391.7,351.8 L396.76,351.8 L396.76,347.95 L401.82,347.95 L401.82,345.62 L406.88,345.62 L406.88,341.57 L411.94,341.57 L411.94,335.69 L417,335.69 L417,327.69 L422.06,327.69 L422.06,320.2 L427.12,320.2 L427.12,311.79 L432.18,311.79 L432.18,301.15 L437.24,301.15 L437.24,291.22 L442.3,291.22 L442.3,288.49 L447.36,288.49 L447.36,283.52 L452.42,283.52 L452.42,284.13 L457.48,284.13 L457.48,304.19 L462.54,304.19 L462.54,325.67 L467.6,325.67 L467.6,341.77 L472.66,341.77 L472.66,354.03 L477.72,354.03 L477.72,364.06 L482.78,364.06 L482.78,371.35 L487.84,371.35 L487.84,374.59 L492.9,374.59 L492.9,375.1" fill="none" stroke="#2b2b2b" stroke-width="1.05" stroke-linejoin="round" stroke-linejoin="miter"/>
<line x1="401.01" y1="273.8" x2="401.01" y2="375.1" stroke="#222" stroke-width="1.25" stroke-dasharray="4.4,1.9"/>
<line x1="415.99" y1="273.8" x2="415.99" y2="375.1" stroke="#222" stroke-width="1.25" stroke-dasharray="4.4,1.9"/>
<line x1="460.01" y1="273.8" x2="460.01" y2="375.1" stroke="#222" stroke-width="1.25" stroke-dasharray="4.4,1.9"/>
<line x1="470.13" y1="273.8" x2="470.13" y2="375.1" stroke="#222" stroke-width="1.25" stroke-dasharray="4.4,1.9"/>
<path d="M502,381.7 L502.3,381.7 L502.3,386.74 L502.4,386.74 L502.4,391.78 L502.6,391.78 L502.6,396.82 L503,396.82 L503,401.86 L503.6,401.86 L503.6,406.9 L504.3,406.9 L504.3,411.94 L505.1,411.94 L505.1,416.98 L505.9,416.98 L505.9,422.02 L506.8,422.02 L506.8,427.06 L507.7,427.06 L507.7,432.1 L511.2,432.1 L511.2,437.14 L515,437.14 L515,442.18 L523.8,442.18 L523.8,447.22 L542.2,447.22 L542.2,452.26 L561.2,452.26 L561.2,457.3 L579.4,457.3 L579.4,462.34 L593.7,462.34 L593.7,467.38 L560.4,467.38 L560.4,472.42 L506.8,472.42 L506.8,477.46 L502.5,477.46 L502.5,482.5 L502,482.5" fill="none" stroke="#2b2b2b" stroke-width="1.05" stroke-linejoin="round" stroke-linejoin="miter"/>
<line x1="502" y1="432.3" x2="602.4" y2="432.3" stroke="#222" stroke-width="1.25" stroke-dasharray="4.4,1.9"/>
<line x1="502" y1="447.32" x2="602.4" y2="447.32" stroke="#222" stroke-width="1.25" stroke-dasharray="4.4,1.9"/>
<line x1="502" y1="467.28" x2="602.4" y2="467.28" stroke="#222" stroke-width="1.25" stroke-dasharray="4.4,1.9"/>
<line x1="502" y1="470" x2="602.4" y2="470" stroke="#222" stroke-width="1.25" stroke-dasharray="4.4,1.9"/>
<rect x="391.7" y="273.8" width="101.2" height="101.3" fill="none" stroke="#7d7d7d" stroke-width="1.15"/>
<rect x="391.7" y="380.4" width="101.2" height="100.7" fill="none" stroke="#7d7d7d" stroke-width="1.15"/>
<rect x="502" y="381.7" width="100.4" height="100.8" fill="none" stroke="#7d7d7d" stroke-width="1.15"/>
<line x1="389.1" y1="281.4" x2="391.7" y2="281.4" stroke="#555" stroke-width="1"/>
<line x1="389.1" y1="304.9" x2="391.7" y2="304.9" stroke="#555" stroke-width="1"/>
<line x1="389.1" y1="328.4" x2="391.7" y2="328.4" stroke="#555" stroke-width="1"/>
<line x1="389.1" y1="352" x2="391.7" y2="352" stroke="#555" stroke-width="1"/>
<line x1="413.5" y1="375.1" x2="413.5" y2="377.7" stroke="#555" stroke-width="1"/>
<line x1="434.6" y1="375.1" x2="434.6" y2="377.7" stroke="#555" stroke-width="1"/>
<line x1="455.7" y1="375.1" x2="455.7" y2="377.7" stroke="#555" stroke-width="1"/>
<line x1="477" y1="375.1" x2="477" y2="377.7" stroke="#555" stroke-width="1"/>
<line x1="389.1" y1="388.6" x2="391.7" y2="388.6" stroke="#555" stroke-width="1"/>
<line x1="389.1" y1="409.4" x2="391.7" y2="409.4" stroke="#555" stroke-width="1"/>
<line x1="389.1" y1="430.6" x2="391.7" y2="430.6" stroke="#555" stroke-width="1"/>
<line x1="389.1" y1="451.6" x2="391.7" y2="451.6" stroke="#555" stroke-width="1"/>
<line x1="389.1" y1="472.6" x2="391.7" y2="472.6" stroke="#555" stroke-width="1"/>
<line x1="413" y1="481.1" x2="413" y2="483.7" stroke="#555" stroke-width="1"/>
<line x1="434.4" y1="481.1" x2="434.4" y2="483.7" stroke="#555" stroke-width="1"/>
<line x1="455.6" y1="481.1" x2="455.6" y2="483.7" stroke="#555" stroke-width="1"/>
<line x1="477" y1="481.1" x2="477" y2="483.7" stroke="#555" stroke-width="1"/>
<line x1="499.4" y1="390.2" x2="502" y2="390.2" stroke="#555" stroke-width="1"/>
<line x1="499.4" y1="411.7" x2="502" y2="411.7" stroke="#555" stroke-width="1"/>
<line x1="499.4" y1="432.2" x2="502" y2="432.2" stroke="#555" stroke-width="1"/>
<line x1="499.4" y1="453.3" x2="502" y2="453.3" stroke="#555" stroke-width="1"/>
<line x1="499.4" y1="474.4" x2="502" y2="474.4" stroke="#555" stroke-width="1"/>
<line x1="414.41" y1="266.41" x2="419.91" y2="266.41" stroke="#1a1a1a" stroke-width="0.95"/>
<text x="420.75" y="269.2" font-family='"Liberation Sans", sans-serif' font-size="8.2" text-anchor="start" fill="#1a1a1a" textLength="29.45" lengthAdjust="spacingAndGlyphs" stroke="#1a1a1a" stroke-width="0.12">10.561</text>
<text x="450.4" y="265.3" font-family='"Liberation Sans", sans-serif' font-size="5.5" text-anchor="start" fill="#1a1a1a" textLength="21.5" lengthAdjust="spacingAndGlyphs">+3.463</text>
<text x="450.4" y="270.3" font-family='"Liberation Sans", sans-serif' font-size="5.5" text-anchor="start" fill="#1a1a1a" textLength="21.5" lengthAdjust="spacingAndGlyphs">−4.777</text>
<line x1="520.93" y1="375.81" x2="526.66" y2="375.81" stroke="#1a1a1a" stroke-width="0.95"/>
<text x="527.54" y="378.6" font-family='"Liberation Sans", sans-serif' font-size="8.2" text-anchor="start" fill="#1a1a1a" textLength="25.06" lengthAdjust="spacingAndGlyphs" stroke="#1a1a1a" stroke-width="0.12">0.002</text>
<text x="553.1" y="374.7" font-family='"Liberation Sans", sans-serif' font-size="5.5" text-anchor="start" fill="#1a1a1a" textLength="22.3" lengthAdjust="spacingAndGlyphs">+0.001</text>
<text x="553.1" y="379.7" font-family='"Liberation Sans", sans-serif' font-size="5.5" text-anchor="start" fill="#1a1a1a" textLength="22.3" lengthAdjust="spacingAndGlyphs">−0.001</text>
<text transform="translate(375.12,397.18) rotate(-45)" x="0" y="2.63" text-anchor="middle" textLength="25.2" font-family='"Liberation Sans", sans-serif' font-size="7.3" fill="#333" stroke="#333" stroke-width="0.15" lengthAdjust="spacingAndGlyphs">0.0000</text>
<g transform="translate(373.99,419.11) rotate(-45)"><line x1="-14.86" y1="0.15" x2="-10.2" y2="0.15" stroke="#2a2a2a" stroke-width="1.05"/><text x="15.45" y="2.63" text-anchor="end" textLength="24.93" font-family='"Liberation Sans", sans-serif' font-size="7.3" fill="#333" stroke="#333" stroke-width="0.15" lengthAdjust="spacingAndGlyphs">0.0025</text></g>
<g transform="translate(373.99,440.31) rotate(-45)"><line x1="-14.86" y1="0.15" x2="-10.2" y2="0.15" stroke="#2a2a2a" stroke-width="1.05"/><text x="15.45" y="2.63" text-anchor="end" textLength="24.93" font-family='"Liberation Sans", sans-serif' font-size="7.3" fill="#333" stroke="#333" stroke-width="0.15" lengthAdjust="spacingAndGlyphs">0.0050</text></g>
<g transform="translate(373.99,461.31) rotate(-45)"><line x1="-14.86" y1="0.15" x2="-10.2" y2="0.15" stroke="#2a2a2a" stroke-width="1.05"/><text x="15.45" y="2.63" text-anchor="end" textLength="24.93" font-family='"Liberation Sans", sans-serif' font-size="7.3" fill="#333" stroke="#333" stroke-width="0.15" lengthAdjust="spacingAndGlyphs">0.0075</text></g>
<g transform="translate(373.99,482.31) rotate(-45)"><line x1="-14.86" y1="0.15" x2="-10.2" y2="0.15" stroke="#2a2a2a" stroke-width="1.05"/><text x="15.45" y="2.63" text-anchor="end" textLength="24.93" font-family='"Liberation Sans", sans-serif' font-size="7.3" fill="#333" stroke="#333" stroke-width="0.15" lengthAdjust="spacingAndGlyphs">0.0100</text></g>
<g transform="translate(413.1,494.5) rotate(-45)"><line x1="-7.23" y1="0.15" x2="-2.36" y2="0.15" stroke="#2a2a2a" stroke-width="1.05"/><text x="7.85" y="2.63" text-anchor="end" textLength="9.47" font-family='"Liberation Sans", sans-serif' font-size="7.3" fill="#333" stroke="#333" stroke-width="0.15" lengthAdjust="spacingAndGlyphs">16</text></g>
<g transform="translate(434.4,494.5) rotate(-45)"><line x1="-7.23" y1="0.15" x2="-2.36" y2="0.15" stroke="#2a2a2a" stroke-width="1.05"/><text x="7.85" y="2.63" text-anchor="end" textLength="9.47" font-family='"Liberation Sans", sans-serif' font-size="7.3" fill="#333" stroke="#333" stroke-width="0.15" lengthAdjust="spacingAndGlyphs">12</text></g>
<g transform="translate(455.6,493) rotate(-45)"><line x1="-4.75" y1="0.15" x2="0" y2="0.15" stroke="#2a2a2a" stroke-width="1.05"/><text x="5.36" y="2.63" text-anchor="end" textLength="4.62" font-family='"Liberation Sans", sans-serif' font-size="7.3" fill="#333" stroke="#333" stroke-width="0.15" lengthAdjust="spacingAndGlyphs">8</text></g>
<g transform="translate(476.8,493) rotate(-45)"><line x1="-4.75" y1="0.15" x2="0" y2="0.15" stroke="#2a2a2a" stroke-width="1.05"/><text x="5.36" y="2.63" text-anchor="end" textLength="4.62" font-family='"Liberation Sans", sans-serif' font-size="7.3" fill="#333" stroke="#333" stroke-width="0.15" lengthAdjust="spacingAndGlyphs">4</text></g>
<text transform="translate(626.1,383.25) rotate(-45)" x="0" y="2.63" text-anchor="middle" textLength="24.14" font-family='"Liberation Sans", sans-serif' font-size="7.3" fill="#333" stroke="#333" stroke-width="0.15" lengthAdjust="spacingAndGlyphs">0.0000</text>
<g transform="translate(624.6,406.85) rotate(-45)"><line x1="-14.6" y1="0.15" x2="-10.02" y2="0.15" stroke="#2a2a2a" stroke-width="1.05"/><text x="15.18" y="2.63" text-anchor="end" textLength="24.5" font-family='"Liberation Sans", sans-serif' font-size="7.3" fill="#333" stroke="#333" stroke-width="0.15" lengthAdjust="spacingAndGlyphs">0.0025</text></g>
<g transform="translate(624.6,428.3) rotate(-45)"><line x1="-14.84" y1="0.15" x2="-10.19" y2="0.15" stroke="#2a2a2a" stroke-width="1.05"/><text x="15.44" y="2.63" text-anchor="end" textLength="24.91" font-family='"Liberation Sans", sans-serif' font-size="7.3" fill="#333" stroke="#333" stroke-width="0.15" lengthAdjust="spacingAndGlyphs">0.0050</text></g>
<g transform="translate(624.6,448.45) rotate(-45)"><line x1="-14.88" y1="0.15" x2="-10.21" y2="0.15" stroke="#2a2a2a" stroke-width="1.05"/><text x="15.47" y="2.63" text-anchor="end" textLength="24.97" font-family='"Liberation Sans", sans-serif' font-size="7.3" fill="#333" stroke="#333" stroke-width="0.15" lengthAdjust="spacingAndGlyphs">0.0075</text></g>
<g transform="translate(624.6,469.45) rotate(-45)"><line x1="-14.88" y1="0.15" x2="-10.21" y2="0.15" stroke="#2a2a2a" stroke-width="1.05"/><text x="15.47" y="2.63" text-anchor="end" textLength="24.97" font-family='"Liberation Sans", sans-serif' font-size="7.3" fill="#333" stroke="#333" stroke-width="0.15" lengthAdjust="spacingAndGlyphs">0.0100</text></g>
<text transform="translate(347.75,435.85) skewY(14) rotate(-90)" x="0" y="0" font-family='"Liberation Serif", serif' font-style="italic" font-size="28" text-anchor="middle" dominant-baseline="central" fill="#000">α</text>
<text x="437.7" y="518.5" font-family='"Liberation Sans", sans-serif' font-size="12.3" text-anchor="start" fill="#222" textLength="10.6" lengthAdjust="spacingAndGlyphs">Δt</text>
<text x="449.1" y="519.7" font-family='"Liberation Sans", sans-serif' font-size="9.3" text-anchor="start" fill="#222" textLength="16.9" lengthAdjust="spacingAndGlyphs">SBO</text>
<clipPath id="k3"><rect x="72.8" y="664.4" width="100.2" height="99.8"/></clipPath>
<path d="M175,683.2 C173.5,679.45 168.68,682.73 166,682.7 C163.32,682.67 160.77,682.87 158.9,683 C157.03,683.13 156.18,682.97 154.8,683.5 C153.42,684.03 152.27,685.55 150.6,686.2 C148.93,686.85 146.95,686.72 144.8,687.4 C142.65,688.08 140.07,689.23 137.7,690.3 C135.33,691.37 132.77,692.72 130.6,693.8 C128.43,694.88 126.67,695.42 124.7,696.8 C122.73,698.18 120.75,700.23 118.8,702.1 C116.85,703.97 114.57,706.23 113,708 C111.43,709.77 110.15,711.23 109.4,712.7 C108.65,714.17 108.4,715.43 108.5,716.8 C108.6,718.17 108.87,720.02 110,720.9 C111.13,721.78 113.03,721.8 115.3,722.1 C117.57,722.4 121.05,722.8 123.6,722.7 C126.15,722.6 128.05,722.08 130.6,721.5 C133.15,720.92 136.15,719.98 138.9,719.2 C141.65,718.42 144.35,717.68 147.1,716.8 C149.85,715.92 152.65,715.08 155.4,713.9 C158.15,712.72 161.45,710.88 163.6,709.7 C165.75,708.52 166.4,707.55 168.3,706.8 C170.2,706.05 173.88,709.13 175,705.2 C176.12,701.27 176.5,686.95 175,683.2 Z" fill="#a5d2a0" stroke="#3d9438" stroke-width="1.3" clip-path="url(#k3)"/>
<path d="M134.2,706.2 C134.7,705.18 136.13,702.47 137.7,700.9 C139.27,699.33 141.63,697.98 143.6,696.8 C145.57,695.62 147.35,694.2 149.5,693.8 C151.65,693.4 154.63,694 156.5,694.4 C158.37,694.8 160.3,695.22 160.7,696.2 C161.1,697.18 160.38,698.73 158.9,700.3 C157.42,701.87 154.15,704.32 151.8,705.6 C149.45,706.88 146.95,707.57 144.8,708 C142.65,708.43 140.58,708.37 138.9,708.2 C137.22,708.03 135.48,707.33 134.7,707 C133.92,706.67 133.7,707.22 134.2,706.2 Z" fill="#9e9ef6" stroke="#1c1cff" stroke-width="1.5" clip-path="url(#k3)"/>
<path d="M72.8,659.1 L72.8,657.9 L77.83,657.9 L77.83,656.9 L82.86,656.9 L82.86,656.2 L87.89,656.2 L87.89,654.7 L92.92,654.7 L92.92,653.61 L97.95,653.61 L97.95,652.31 L102.98,652.31 L102.98,649.91 L108.01,649.91 L108.01,645.71 L113.04,645.71 L113.04,642.12 L118.07,642.12 L118.07,634.92 L123.1,634.92 L123.1,628.03 L128.13,628.03 L128.13,612.35 L133.16,612.35 L133.16,599.46 L138.19,599.46 L138.19,583.48 L143.22,583.48 L143.22,572.79 L148.25,572.79 L148.25,568.29 L153.28,568.29 L153.28,579.88 L158.31,579.88 L158.31,597.26 L163.34,597.26 L163.34,616.04 L168.37,616.04 L168.37,633.03 L173.4,633.03 L173.4,659.1" fill="none" stroke="#2b2b2b" stroke-width="1.05" stroke-linejoin="round" stroke-linejoin="miter"/>
<line x1="109.32" y1="559.2" x2="109.32" y2="659.1" stroke="#222" stroke-width="1.25" stroke-dasharray="4.4,1.9"/>
<line x1="126.92" y1="559.2" x2="126.92" y2="659.1" stroke="#222" stroke-width="1.25" stroke-dasharray="4.4,1.9"/>
<line x1="159.52" y1="559.2" x2="159.52" y2="659.1" stroke="#222" stroke-width="1.25" stroke-dasharray="4.4,1.9"/>
<line x1="166.66" y1="559.2" x2="166.66" y2="659.1" stroke="#222" stroke-width="1.25" stroke-dasharray="4.4,1.9"/>
<path d="M177.7,664.6 L178,664.6 L178,669.58 L178.3,669.58 L178.3,674.56 L179.2,674.56 L179.2,679.54 L182.1,679.54 L182.1,684.52 L191.5,684.52 L191.5,689.5 L210.7,689.5 L210.7,694.48 L250.2,694.48 L250.2,699.46 L268.5,699.46 L268.5,704.44 L253.5,704.44 L253.5,709.42 L224.9,709.42 L224.9,714.4 L203,714.4 L203,719.38 L192,719.38 L192,724.36 L185.4,724.36 L185.4,729.34 L182.1,729.34 L182.1,734.32 L179.9,734.32 L179.9,739.3 L179.2,739.3 L179.2,744.28 L178.7,744.28 L178.7,749.26 L178.4,749.26 L178.4,754.24 L178.1,754.24 L178.1,759.22 L177.9,759.22 L177.9,764.2 L177.7,764.2" fill="none" stroke="#2b2b2b" stroke-width="1.05" stroke-linejoin="round" stroke-linejoin="miter"/>
<line x1="177.7" y1="690.1" x2="277.7" y2="690.1" stroke="#222" stroke-width="1.25" stroke-dasharray="4.4,1.9"/>
<line x1="177.7" y1="695.58" x2="277.7" y2="695.58" stroke="#222" stroke-width="1.25" stroke-dasharray="4.4,1.9"/>
<line x1="177.7" y1="713.6" x2="277.7" y2="713.6" stroke="#222" stroke-width="1.25" stroke-dasharray="4.4,1.9"/>
<line x1="177.7" y1="723.07" x2="277.7" y2="723.07" stroke="#222" stroke-width="1.25" stroke-dasharray="4.4,1.9"/>
<rect x="72.8" y="559.2" width="100.6" height="99.9" fill="none" stroke="#7d7d7d" stroke-width="1.15"/>
<rect x="72.8" y="664.4" width="100.2" height="99.8" fill="none" stroke="#7d7d7d" stroke-width="1.15"/>
<rect x="177.7" y="664.6" width="100" height="99.6" fill="none" stroke="#7d7d7d" stroke-width="1.15"/>
<line x1="93" y1="659.1" x2="93" y2="661.7" stroke="#555" stroke-width="1"/>
<line x1="113.1" y1="659.1" x2="113.1" y2="661.7" stroke="#555" stroke-width="1"/>
<line x1="133.3" y1="659.1" x2="133.3" y2="661.7" stroke="#555" stroke-width="1"/>
<line x1="153.1" y1="659.1" x2="153.1" y2="661.7" stroke="#555" stroke-width="1"/>
<line x1="70.2" y1="679.5" x2="72.8" y2="679.5" stroke="#555" stroke-width="1"/>
<line x1="70.2" y1="704.8" x2="72.8" y2="704.8" stroke="#555" stroke-width="1"/>
<line x1="70.2" y1="730.1" x2="72.8" y2="730.1" stroke="#555" stroke-width="1"/>
<line x1="70.2" y1="755.5" x2="72.8" y2="755.5" stroke="#555" stroke-width="1"/>
<line x1="93" y1="764.2" x2="93" y2="766.8" stroke="#555" stroke-width="1"/>
<line x1="113.1" y1="764.2" x2="113.1" y2="766.8" stroke="#555" stroke-width="1"/>
<line x1="133.2" y1="764.2" x2="133.2" y2="766.8" stroke="#555" stroke-width="1"/>
<line x1="153" y1="764.2" x2="153" y2="766.8" stroke="#555" stroke-width="1"/>
<line x1="175.1" y1="679.1" x2="177.7" y2="679.1" stroke="#555" stroke-width="1"/>
<line x1="175.1" y1="705.3" x2="177.7" y2="705.3" stroke="#555" stroke-width="1"/>
<line x1="175.1" y1="730.5" x2="177.7" y2="730.5" stroke="#555" stroke-width="1"/>
<line x1="175.1" y1="755.8" x2="177.7" y2="755.8" stroke="#555" stroke-width="1"/>
<line x1="97.19" y1="550.91" x2="102.6" y2="550.91" stroke="#1a1a1a" stroke-width="0.95"/>
<text x="103.43" y="553.7" font-family='"Liberation Sans", sans-serif' font-size="8.2" text-anchor="start" fill="#1a1a1a" textLength="23.67" lengthAdjust="spacingAndGlyphs" stroke="#1a1a1a" stroke-width="0.12">0.546</text>
<text x="127" y="549.8" font-family='"Liberation Sans", sans-serif' font-size="5.5" text-anchor="start" fill="#1a1a1a" textLength="21.8" lengthAdjust="spacingAndGlyphs">+0.276</text>
<text x="127" y="554.8" font-family='"Liberation Sans", sans-serif' font-size="5.5" text-anchor="start" fill="#1a1a1a" textLength="21.8" lengthAdjust="spacingAndGlyphs">−0.370</text>
<text x="205.7" y="660.3" font-family='"Liberation Sans", sans-serif' font-size="8.2" text-anchor="start" fill="#1a1a1a" textLength="23.9" lengthAdjust="spacingAndGlyphs" stroke="#1a1a1a" stroke-width="0.12">0.163</text>
<text x="229.7" y="656.4" font-family='"Liberation Sans", sans-serif' font-size="5.5" text-anchor="start" fill="#1a1a1a" textLength="21.8" lengthAdjust="spacingAndGlyphs">+0.012</text>
<text x="229.7" y="661.4" font-family='"Liberation Sans", sans-serif' font-size="5.5" text-anchor="start" fill="#1a1a1a" textLength="21.8" lengthAdjust="spacingAndGlyphs">−0.016</text>
<text transform="translate(59.65,684.2) rotate(-45)" x="0" y="2.63" text-anchor="middle" textLength="15.2" font-family='"Liberation Sans", sans-serif' font-size="7.3" fill="#333" stroke="#333" stroke-width="0.15" lengthAdjust="spacingAndGlyphs">0.20</text>
<text transform="translate(59.65,709.7) rotate(-45)" x="0" y="2.63" text-anchor="middle" textLength="15.33" font-family='"Liberation Sans", sans-serif' font-size="7.3" fill="#333" stroke="#333" stroke-width="0.15" lengthAdjust="spacingAndGlyphs">0.16</text>
<text transform="translate(59.65,735.25) rotate(-45)" x="0" y="2.63" text-anchor="middle" textLength="15.65" font-family='"Liberation Sans", sans-serif' font-size="7.3" fill="#333" stroke="#333" stroke-width="0.15" lengthAdjust="spacingAndGlyphs">0.12</text>
<text transform="translate(59.65,761.2) rotate(-45)" x="0" y="2.63" text-anchor="middle" textLength="15.46" font-family='"Liberation Sans", sans-serif' font-size="7.3" fill="#333" stroke="#333" stroke-width="0.15" lengthAdjust="spacingAndGlyphs">0.08</text>
<g transform="translate(93.05,777.25) rotate(-45)"><line x1="-8.19" y1="0.15" x2="-3.46" y2="0.15" stroke="#2a2a2a" stroke-width="1.05"/><text x="8.8" y="2.63" text-anchor="end" textLength="11.53" font-family='"Liberation Sans", sans-serif' font-size="7.3" fill="#333" stroke="#333" stroke-width="0.15" lengthAdjust="spacingAndGlyphs">1.6</text></g>
<g transform="translate(113.1,777.25) rotate(-45)"><line x1="-7.96" y1="0.15" x2="-3.36" y2="0.15" stroke="#2a2a2a" stroke-width="1.05"/><text x="8.55" y="2.63" text-anchor="end" textLength="11.19" font-family='"Liberation Sans", sans-serif' font-size="7.3" fill="#333" stroke="#333" stroke-width="0.15" lengthAdjust="spacingAndGlyphs">1.2</text></g>
<g transform="translate(133.1,777.25) rotate(-45)"><line x1="-8.23" y1="0.15" x2="-3.47" y2="0.15" stroke="#2a2a2a" stroke-width="1.05"/><text x="8.84" y="2.63" text-anchor="end" textLength="11.58" font-family='"Liberation Sans", sans-serif' font-size="7.3" fill="#333" stroke="#333" stroke-width="0.15" lengthAdjust="spacingAndGlyphs">0.8</text></g>
<g transform="translate(152.95,777.25) rotate(-45)"><line x1="-8.06" y1="0.15" x2="-3.4" y2="0.15" stroke="#2a2a2a" stroke-width="1.05"/><text x="8.66" y="2.63" text-anchor="end" textLength="11.34" font-family='"Liberation Sans", sans-serif' font-size="7.3" fill="#333" stroke="#333" stroke-width="0.15" lengthAdjust="spacingAndGlyphs">0.4</text></g>
<text transform="translate(287.05,676.85) rotate(-45)" x="0" y="2.63" text-anchor="middle" textLength="15.91" font-family='"Liberation Sans", sans-serif' font-size="7.3" fill="#333" stroke="#333" stroke-width="0.15" lengthAdjust="spacingAndGlyphs">0.20</text>
<text transform="translate(287.05,702.05) rotate(-45)" x="0" y="2.63" text-anchor="middle" textLength="15.91" font-family='"Liberation Sans", sans-serif' font-size="7.3" fill="#333" stroke="#333" stroke-width="0.15" lengthAdjust="spacingAndGlyphs">0.16</text>
<text transform="translate(287.05,727.35) rotate(-45)" x="0" y="2.63" text-anchor="middle" textLength="15.91" font-family='"Liberation Sans", sans-serif' font-size="7.3" fill="#333" stroke="#333" stroke-width="0.15" lengthAdjust="spacingAndGlyphs">0.12</text>
<text transform="translate(287.05,753.75) rotate(-45)" x="0" y="2.63" text-anchor="middle" textLength="15.91" font-family='"Liberation Sans", sans-serif' font-size="7.3" fill="#333" stroke="#333" stroke-width="0.15" lengthAdjust="spacingAndGlyphs">0.08</text>
<text transform="translate(30,714.05) skewY(0) rotate(-90)" x="0" y="0" font-family='"Liberation Serif", serif' font-style="italic" font-size="27.5" text-anchor="middle" dominant-baseline="central" fill="#000">β</text>
<text x="113.5" y="802.1" font-family='"Liberation Sans", sans-serif' font-size="12.3" text-anchor="start" fill="#222" textLength="10.5" lengthAdjust="spacingAndGlyphs">Δt</text>
<text x="124.8" y="803.3" font-family='"Liberation Sans", sans-serif' font-size="9.3" text-anchor="start" fill="#222" textLength="16.9" lengthAdjust="spacingAndGlyphs">SBO</text>
<clipPath id="k4"><rect x="397.6" y="664.4" width="100.4" height="99.8"/></clipPath>
<path d="M395,744.2 C396.88,742.28 402.77,742.5 406.3,741.6 C409.83,740.7 412.9,739.98 416.2,738.8 C419.5,737.62 422.8,735.92 426.1,734.5 C429.4,733.08 432.72,731.82 436,730.3 C439.28,728.78 442.75,727.05 445.8,725.4 C448.85,723.75 451.47,722.4 454.3,720.4 C457.13,718.4 460.2,715.52 462.8,713.4 C465.4,711.28 467.9,709.47 469.9,707.7 C471.9,705.93 473.43,702.92 474.8,702.8 C476.17,702.68 477.87,705.23 478.1,707 C478.33,708.77 477.33,710.93 476.2,713.4 C475.07,715.87 473.3,719.22 471.3,721.8 C469.3,724.38 466.8,726.53 464.2,728.9 C461.6,731.27 458.77,734 455.7,736 C452.63,738 449.08,739.5 445.8,740.9 C442.52,742.3 439.28,743.22 436,744.4 C432.72,745.58 429.4,747.05 426.1,748 C422.8,748.95 419.5,749.52 416.2,750.1 C412.9,750.68 409.83,751 406.3,751.5 C402.77,752 396.88,754.32 395,753.1 C393.12,751.88 393.12,746.12 395,744.2 Z" fill="#a5d2a0" stroke="#3d9438" stroke-width="1.3" clip-path="url(#k4)"/>
<path d="M431.4,737.1 C432.35,736.35 437.1,735.08 438.8,734.3 C440.5,733.52 439.48,733.65 441.6,732.4 C443.72,731.15 448.43,728.85 451.5,726.8 C454.57,724.75 457.83,720.93 460,720.1 C462.17,719.27 464.5,720.68 464.5,721.8 C464.5,722.92 462.17,724.92 460,726.8 C457.83,728.68 454.33,731.33 451.5,733.1 C448.67,734.87 445.35,736.4 443,737.4 C440.65,738.4 439.05,738.87 437.4,739.1 C435.75,739.33 434.1,739.13 433.1,738.8 C432.1,738.47 430.45,737.85 431.4,737.1 Z" fill="#9e9ef6" stroke="#1c1cff" stroke-width="1.5" clip-path="url(#k4)"/>
<path d="M397.2,659.2 L397.2,636.04 L402.26,636.04 L402.26,632.21 L407.32,632.21 L407.32,629.9 L412.38,629.9 L412.38,625.87 L417.44,625.87 L417.44,620.03 L422.5,620.03 L422.5,612.07 L427.56,612.07 L427.56,604.62 L432.62,604.62 L432.62,596.26 L437.68,596.26 L437.68,585.69 L442.74,585.69 L442.74,575.82 L447.8,575.82 L447.8,573.1 L452.86,573.1 L452.86,568.17 L457.92,568.17 L457.92,568.77 L462.98,568.77 L462.98,588.71 L468.04,588.71 L468.04,610.06 L473.1,610.06 L473.1,626.07 L478.16,626.07 L478.16,638.25 L483.22,638.25 L483.22,648.22 L488.28,648.22 L488.28,655.47 L493.34,655.47 L493.34,658.7 L498.4,658.7 L498.4,659.2" fill="none" stroke="#2b2b2b" stroke-width="1.05" stroke-linejoin="round" stroke-linejoin="miter"/>
<line x1="406.51" y1="558.5" x2="406.51" y2="659.2" stroke="#222" stroke-width="1.25" stroke-dasharray="4.4,1.9"/>
<line x1="421.49" y1="558.5" x2="421.49" y2="659.2" stroke="#222" stroke-width="1.25" stroke-dasharray="4.4,1.9"/>
<line x1="465.51" y1="558.5" x2="465.51" y2="659.2" stroke="#222" stroke-width="1.25" stroke-dasharray="4.4,1.9"/>
<line x1="475.63" y1="558.5" x2="475.63" y2="659.2" stroke="#222" stroke-width="1.25" stroke-dasharray="4.4,1.9"/>
<path d="M506.1,664.5 L506.4,664.5 L506.4,669.51 L506.6,669.51 L506.6,674.53 L516.6,674.53 L516.6,679.54 L553.4,679.54 L553.4,684.56 L586.4,684.56 L586.4,689.58 L597.5,689.58 L597.5,694.59 L594.2,694.59 L594.2,699.61 L583.7,699.61 L583.7,704.62 L566.3,704.62 L566.3,709.63 L541.1,709.63 L541.1,714.65 L526.2,714.65 L526.2,719.66 L519.5,719.66 L519.5,724.68 L514.6,724.68 L514.6,729.69 L512.4,729.69 L512.4,734.71 L511.1,734.71 L511.1,739.72 L508.8,739.72 L508.8,744.74 L507.3,744.74 L507.3,749.75 L506.6,749.75 L506.6,754.77 L506.1,754.77 L506.1,759.78 L506.1,759.78 L506.1,764.8 L506.1,764.8" fill="none" stroke="#2b2b2b" stroke-width="1.05" stroke-linejoin="round" stroke-linejoin="miter"/>
<line x1="506.1" y1="681.15" x2="606.5" y2="681.15" stroke="#222" stroke-width="1.25" stroke-dasharray="4.4,1.9"/>
<line x1="506.1" y1="686.37" x2="606.5" y2="686.37" stroke="#222" stroke-width="1.25" stroke-dasharray="4.4,1.9"/>
<line x1="506.1" y1="709.84" x2="606.5" y2="709.84" stroke="#222" stroke-width="1.25" stroke-dasharray="4.4,1.9"/>
<line x1="506.1" y1="722.87" x2="606.5" y2="722.87" stroke="#222" stroke-width="1.25" stroke-dasharray="4.4,1.9"/>
<rect x="397.2" y="558.5" width="101.2" height="100.7" fill="none" stroke="#7d7d7d" stroke-width="1.15"/>
<rect x="397.6" y="664.4" width="100.4" height="99.8" fill="none" stroke="#7d7d7d" stroke-width="1.15"/>
<rect x="506.1" y="664.5" width="100.4" height="100.3" fill="none" stroke="#7d7d7d" stroke-width="1.15"/>
<line x1="394.6" y1="566" x2="397.2" y2="566" stroke="#555" stroke-width="1"/>
<line x1="394.6" y1="589.5" x2="397.2" y2="589.5" stroke="#555" stroke-width="1"/>
<line x1="394.6" y1="612.5" x2="397.2" y2="612.5" stroke="#555" stroke-width="1"/>
<line x1="394.6" y1="636" x2="397.2" y2="636" stroke="#555" stroke-width="1"/>
<line x1="418.9" y1="659.2" x2="418.9" y2="661.8" stroke="#555" stroke-width="1"/>
<line x1="439.6" y1="659.2" x2="439.6" y2="661.8" stroke="#555" stroke-width="1"/>
<line x1="460.7" y1="659.2" x2="460.7" y2="661.8" stroke="#555" stroke-width="1"/>
<line x1="481.4" y1="659.2" x2="481.4" y2="661.8" stroke="#555" stroke-width="1"/>
<line x1="395" y1="680.9" x2="397.6" y2="680.9" stroke="#555" stroke-width="1"/>
<line x1="395" y1="703.1" x2="397.6" y2="703.1" stroke="#555" stroke-width="1"/>
<line x1="395" y1="724.8" x2="397.6" y2="724.8" stroke="#555" stroke-width="1"/>
<line x1="395" y1="746.5" x2="397.6" y2="746.5" stroke="#555" stroke-width="1"/>
<line x1="418.6" y1="764.2" x2="418.6" y2="766.8" stroke="#555" stroke-width="1"/>
<line x1="439.3" y1="764.2" x2="439.3" y2="766.8" stroke="#555" stroke-width="1"/>
<line x1="460.5" y1="764.2" x2="460.5" y2="766.8" stroke="#555" stroke-width="1"/>
<line x1="481.4" y1="764.2" x2="481.4" y2="766.8" stroke="#555" stroke-width="1"/>
<line x1="503.5" y1="683.5" x2="506.1" y2="683.5" stroke="#555" stroke-width="1"/>
<line x1="503.5" y1="704.6" x2="506.1" y2="704.6" stroke="#555" stroke-width="1"/>
<line x1="503.5" y1="725.8" x2="506.1" y2="725.8" stroke="#555" stroke-width="1"/>
<line x1="503.5" y1="748.1" x2="506.1" y2="748.1" stroke="#555" stroke-width="1"/>
<line x1="419.41" y1="550.91" x2="424.91" y2="550.91" stroke="#1a1a1a" stroke-width="0.95"/>
<text x="425.75" y="553.7" font-family='"Liberation Sans", sans-serif' font-size="8.2" text-anchor="start" fill="#1a1a1a" textLength="29.45" lengthAdjust="spacingAndGlyphs" stroke="#1a1a1a" stroke-width="0.12">10.561</text>
<text x="455.4" y="549.8" font-family='"Liberation Sans", sans-serif' font-size="5.5" text-anchor="start" fill="#1a1a1a" textLength="21" lengthAdjust="spacingAndGlyphs">+3.463</text>
<text x="455.4" y="554.8" font-family='"Liberation Sans", sans-serif' font-size="5.5" text-anchor="start" fill="#1a1a1a" textLength="21" lengthAdjust="spacingAndGlyphs">−4.777</text>
<text x="533.2" y="660.3" font-family='"Liberation Sans", sans-serif' font-size="8.2" text-anchor="start" fill="#1a1a1a" textLength="23.9" lengthAdjust="spacingAndGlyphs" stroke="#1a1a1a" stroke-width="0.12">0.082</text>
<text x="557.2" y="656.4" font-family='"Liberation Sans", sans-serif' font-size="5.5" text-anchor="start" fill="#1a1a1a" textLength="22.3" lengthAdjust="spacingAndGlyphs">+0.030</text>
<text x="557.2" y="661.4" font-family='"Liberation Sans", sans-serif' font-size="5.5" text-anchor="start" fill="#1a1a1a" textLength="22.3" lengthAdjust="spacingAndGlyphs">−0.024</text>
<text transform="translate(384.05,686.05) rotate(-45)" x="0" y="2.63" text-anchor="middle" textLength="15.65" font-family='"Liberation Sans", sans-serif' font-size="7.3" fill="#333" stroke="#333" stroke-width="0.15" lengthAdjust="spacingAndGlyphs">0.20</text>
<text transform="translate(384.05,708.1) rotate(-45)" x="0" y="2.63" text-anchor="middle" textLength="15.2" font-family='"Liberation Sans", sans-serif' font-size="7.3" fill="#333" stroke="#333" stroke-width="0.15" lengthAdjust="spacingAndGlyphs">0.15</text>
<text transform="translate(384.05,729.7) rotate(-45)" x="0" y="2.63" text-anchor="middle" textLength="15.2" font-family='"Liberation Sans", sans-serif' font-size="7.3" fill="#333" stroke="#333" stroke-width="0.15" lengthAdjust="spacingAndGlyphs">0.10</text>
<text transform="translate(384.05,751.3) rotate(-45)" x="0" y="2.63" text-anchor="middle" textLength="15.2" font-family='"Liberation Sans", sans-serif' font-size="7.3" fill="#333" stroke="#333" stroke-width="0.15" lengthAdjust="spacingAndGlyphs">0.05</text>
<g transform="translate(418.3,777.75) rotate(-45)"><line x1="-6.61" y1="0.15" x2="-2.16" y2="0.15" stroke="#2a2a2a" stroke-width="1.05"/><text x="7.18" y="2.63" text-anchor="end" textLength="8.66" font-family='"Liberation Sans", sans-serif' font-size="7.3" fill="#333" stroke="#333" stroke-width="0.15" lengthAdjust="spacingAndGlyphs">16</text></g>
<g transform="translate(439.5,777.75) rotate(-45)"><line x1="-6.9" y1="0.15" x2="-2.25" y2="0.15" stroke="#2a2a2a" stroke-width="1.05"/><text x="7.49" y="2.63" text-anchor="end" textLength="9.03" font-family='"Liberation Sans", sans-serif' font-size="7.3" fill="#333" stroke="#333" stroke-width="0.15" lengthAdjust="spacingAndGlyphs">12</text></g>
<g transform="translate(461.1,776.15) rotate(-45)"><line x1="-4.53" y1="0.15" x2="0" y2="0.15" stroke="#2a2a2a" stroke-width="1.05"/><text x="5.11" y="2.63" text-anchor="end" textLength="4.41" font-family='"Liberation Sans", sans-serif' font-size="7.3" fill="#333" stroke="#333" stroke-width="0.15" lengthAdjust="spacingAndGlyphs">8</text></g>
<g transform="translate(481.35,776.15) rotate(-45)"><line x1="-4.22" y1="0.15" x2="0" y2="0.15" stroke="#2a2a2a" stroke-width="1.05"/><text x="4.77" y="2.63" text-anchor="end" textLength="4.11" font-family='"Liberation Sans", sans-serif' font-size="7.3" fill="#333" stroke="#333" stroke-width="0.15" lengthAdjust="spacingAndGlyphs">4</text></g>
<text transform="translate(618.15,681.25) rotate(-45)" x="0" y="2.63" text-anchor="middle" textLength="15.41" font-family='"Liberation Sans", sans-serif' font-size="7.3" fill="#333" stroke="#333" stroke-width="0.15" lengthAdjust="spacingAndGlyphs">0.20</text>
<text transform="translate(618.15,702.75) rotate(-45)" x="0" y="2.63" text-anchor="middle" textLength="15.04" font-family='"Liberation Sans", sans-serif' font-size="7.3" fill="#333" stroke="#333" stroke-width="0.15" lengthAdjust="spacingAndGlyphs">0.15</text>
<text transform="translate(618.15,724.7) rotate(-45)" x="0" y="2.63" text-anchor="middle" textLength="15.47" font-family='"Liberation Sans", sans-serif' font-size="7.3" fill="#333" stroke="#333" stroke-width="0.15" lengthAdjust="spacingAndGlyphs">0.10</text>
<text transform="translate(618.15,747) rotate(-45)" x="0" y="2.63" text-anchor="middle" textLength="15.47" font-family='"Liberation Sans", sans-serif' font-size="7.3" fill="#333" stroke="#333" stroke-width="0.15" lengthAdjust="spacingAndGlyphs">0.05</text>
<text transform="translate(357.85,708.4) skewY(0) rotate(-90)" x="0" y="0" font-family='"Liberation Serif", serif' font-style="italic" font-size="28.5" text-anchor="middle" dominant-baseline="central" fill="#000">β</text>
<text x="443" y="799.7" font-family='"Liberation Sans", sans-serif' font-size="12.3" text-anchor="start" fill="#222" textLength="10.5" lengthAdjust="spacingAndGlyphs">Δt</text>
<text x="454.3" y="800.9" font-family='"Liberation Sans", sans-serif' font-size="9.3" text-anchor="start" fill="#222" textLength="16.7" lengthAdjust="spacingAndGlyphs">SBO</text>
</svg>
</body></html>
